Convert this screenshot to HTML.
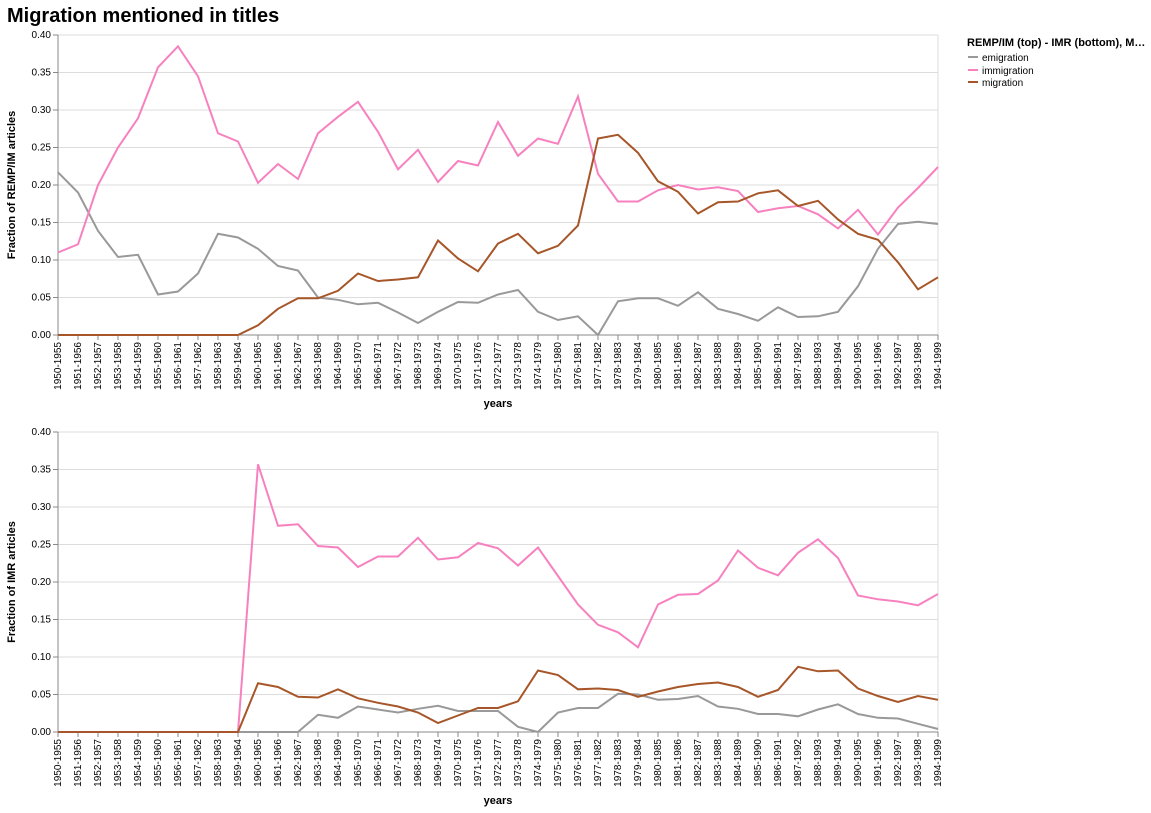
<!DOCTYPE html>
<html><head><meta charset="utf-8"><style>
body{margin:0;background:#fff;font-family:"Liberation Sans",Arial,sans-serif;}
svg text{font-family:"Liberation Sans",Arial,sans-serif;}
</style></head><body>
<svg id="chart" width="1151" height="808" xmlns="http://www.w3.org/2000/svg">
<text x="7" y="22" font-size="20" font-weight="bold" fill="#000">Migration mentioned in titles</text>
<g>
<text x="967" y="46" font-size="11" font-weight="bold">REMP/IM (top) - IMR (bottom), M…</text>
<line x1="968" x2="978" y1="57" y2="57" stroke="#999999" stroke-width="2"/>
<text x="982" y="61" font-size="10">emigration</text>
<line x1="968" x2="978" y1="70" y2="70" stroke="#f781bf" stroke-width="2"/>
<text x="982" y="74" font-size="10">immigration</text>
<line x1="968" x2="978" y1="82" y2="82" stroke="#a65628" stroke-width="2"/>
<text x="982" y="86" font-size="10">migration</text>
</g>
</svg>
<script>
const categories = [];
for (let y = 1950; y <= 1994; y++) categories.push(y + "-" + (y + 5));
const yTicks = [0, 0.05, 0.10, 0.15, 0.20, 0.25, 0.30, 0.35, 0.40];
const topEmigration = [0.217,0.190,0.139,0.104,0.107,0.054,0.058,0.082,0.135,0.130,0.115,0.092,0.086,0.050,0.047,0.041,0.043,0.030,0.016,0.031,0.044,0.043,0.054,0.060,0.031,0.020,0.025,0.000,0.045,0.049,0.049,0.039,0.057,0.035,0.028,0.019,0.037,0.024,0.025,0.031,0.065,0.115,0.148,0.151,0.148];
const topImmigration = [0.110,0.121,0.200,0.250,0.289,0.357,0.385,0.345,0.269,0.258,0.203,0.228,0.208,0.269,0.291,0.311,0.271,0.221,0.247,0.204,0.232,0.226,0.284,0.239,0.262,0.255,0.318,0.215,0.178,0.178,0.193,0.200,0.194,0.197,0.192,0.164,0.169,0.172,0.161,0.142,0.167,0.134,0.170,0.196,0.224];
const topMigration = [0,0,0,0,0,0,0,0,0,0,0.013,0.035,0.049,0.049,0.059,0.082,0.072,0.074,0.077,0.126,0.102,0.085,0.122,0.135,0.109,0.119,0.146,0.262,0.267,0.243,0.205,0.191,0.162,0.177,0.178,0.189,0.193,0.172,0.179,0.154,0.135,0.127,0.097,0.061,0.077];
const botEmigration = [0,0,0,0,0,0,0,0,0,0,0,0,0,0.023,0.019,0.034,0.030,0.026,0.031,0.035,0.028,0.028,0.028,0.007,0.000,0.026,0.032,0.032,0.051,0.050,0.043,0.044,0.048,0.034,0.031,0.024,0.024,0.021,0.030,0.037,0.024,0.019,0.018,0.011,0.004];
const botImmigration = [0,0,0,0,0,0,0,0,0,0,0.357,0.275,0.277,0.248,0.246,0.220,0.234,0.234,0.259,0.230,0.233,0.252,0.245,0.222,0.246,0.208,0.170,0.143,0.133,0.113,0.170,0.183,0.184,0.202,0.242,0.219,0.209,0.239,0.257,0.232,0.182,0.177,0.174,0.169,0.184];
const botMigration = [0,0,0,0,0,0,0,0,0,0,0.065,0.060,0.047,0.046,0.057,0.045,0.039,0.034,0.026,0.012,0.022,0.032,0.032,0.041,0.082,0.076,0.057,0.058,0.056,0.047,0.054,0.060,0.064,0.066,0.060,0.047,0.056,0.087,0.081,0.082,0.058,0.048,0.040,0.048,0.043];

const NS = "http://www.w3.org/2000/svg";
const svg = document.getElementById("chart");
const X0 = 58, X1 = 938, H = 300;
function xScale(i){ return X0 + i * (X1 - X0) / (categories.length - 1); }
function mk(tag, attrs, parent){ const e = document.createElementNS(NS, tag); for (const k in attrs) e.setAttribute(k, attrs[k]); parent.appendChild(e); return e; }

function panel(top, title, series, prefix){
  const yScale = v => top + H - v / 0.4 * H;
  const g = mk("g", {}, svg);
  
  
  yTicks.forEach(t => {
    const y = yScale(t);
    const gl = mk("line", {x1: X0, x2: X1, y1: y, y2: y, stroke: "#ddd", "stroke-width": 1}, g);
    
    
    mk("line", {x1: X0 - 5, x2: X0, y1: y, y2: y, stroke: "#888"}, g);
    const tl = mk("text", {x: X0 - 7, y: y + 3, "font-size": 10, "text-anchor": "end", fill: "#000"}, g);
    tl.textContent = t.toFixed(2);
    
    
  });
  mk("line", {x1: X1, x2: X1, y1: top, y2: top + H, stroke: "#ddd"}, g);
  mk("line", {x1: X0, x2: X0, y1: top, y2: top + H, stroke: "#888"}, g);
  mk("line", {x1: X0, x2: X1, y1: top + H, y2: top + H, stroke: "#888"}, g);
  categories.forEach((c, i) => {
    const x = xScale(i);
    mk("line", {x1: x, x2: x, y1: top + H, y2: top + H + 5, stroke: "#888"}, g);
    const tl = mk("text", {x: 0, y: 0, "font-size": 10, "text-anchor": "end", transform: `translate(${x + 3},${top + H + 7}) rotate(-90)`}, g);
    tl.textContent = c;
    
    
  });
  const xt = mk("text", {x: (X0 + X1) / 2, y: top + H + 72, "font-size": 11, "font-weight": "bold", "text-anchor": "middle"}, g);
  xt.textContent = "years";
  
  
  const yt = mk("text", {x: 0, y: 0, "font-size": 11, "font-weight": "bold", "text-anchor": "middle", transform: `translate(15,${top + H / 2}) rotate(-90)`}, g);
  yt.textContent = title;
  
  
  series.forEach(s => {
    const d = s.values.map((v, i) => (i ? "L" : "M") + xScale(i).toFixed(1) + "," + yScale(v).toFixed(1)).join("");
    const p = mk("path", {d: d, fill: "none", stroke: s.color, "stroke-width": 2}, g);
    
    
  });
}
panel(35, "Fraction of REMP/IM articles", [
  {name: "emigration", values: topEmigration, color: "#999999"},
  {name: "immigration", values: topImmigration, color: "#f781bf"},
  {name: "migration", values: topMigration, color: "#a65628"}], "top");
panel(432, "Fraction of IMR articles", [
  {name: "emigration", values: botEmigration, color: "#999999"},
  {name: "immigration", values: botImmigration, color: "#f781bf"},
  {name: "migration", values: botMigration, color: "#a65628"}], "bottom");
</script>
</body></html>
